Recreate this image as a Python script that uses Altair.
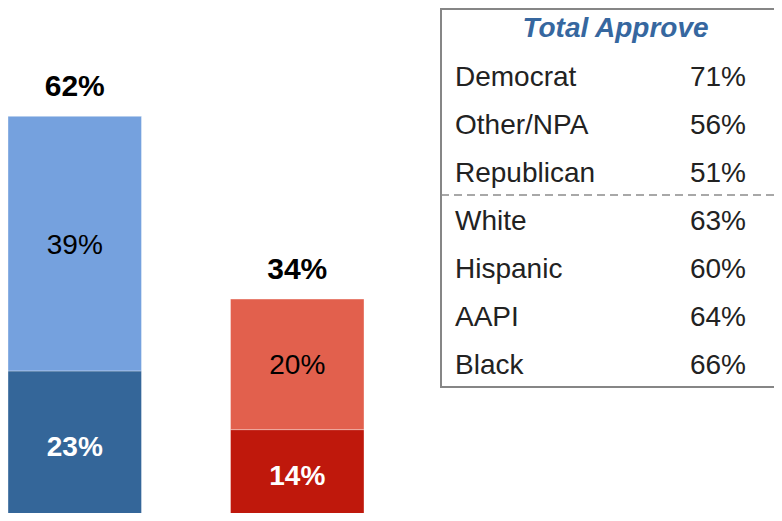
import altair as alt
import pandas as pd

# ---- data ----
categories = ["Approve", "Disapprove"]
strongly = [23, 14]
somewhat = [39, 20]
totals = [62, 34]

groups = ["Democrat", "Other/NPA", "Republican", "White", "Hispanic", "AAPI", "Black"]
approve_pct = [71, 56, 51, 63, 60, 64, 66]
table_title = "Total Approve"

colors = {
    ("Approve", "Strongly"): "#346699",
    ("Approve", "Somewhat"): "#75a1de",
    ("Disapprove", "Strongly"): "#bf180c",
    ("Disapprove", "Somewhat"): "#e2604d",
}

FONT = "Liberation Sans"

rows = []
for i, c in enumerate(categories):
    base = 0
    for seg, v in (("Strongly", strongly[i]), ("Somewhat", somewhat[i])):
        rows.append({"cat": c, "seg": seg, "key": f"{c}-{seg}", "y0": base,
                     "y1": base + v, "mid": base + v / 2, "label": f"{v}%"})
        base += v
bars_df = pd.DataFrame(rows)
tot_df = pd.DataFrame({"cat": categories, "total": totals,
                       "label": [f"{t}%" for t in totals]})
tab_df = pd.DataFrame({"group": groups, "pct": [f"{p}%" for p in approve_pct],
                       "lab": ["label"] * len(groups), "val": ["value"] * len(groups)})
title_df = pd.DataFrame({"t": [table_title]})

W, H = 766, 505

xs = alt.Scale(type="band", domain=categories, range=[0, 356], paddingInner=0.4, paddingOuter=0)
ys = alt.Scale(domain=[0, 78.6], range=[513, 0], zero=True, nice=False)
key_dom = [f"{c}-{s}" for (c, s) in colors]
key_rng = list(colors.values())

bars = alt.Chart(bars_df).mark_bar(stroke="white", strokeWidth=0.6, strokeOpacity=0.6, clip=True).encode(
    x=alt.X("cat:N", scale=xs, axis=None),
    y=alt.Y("y0:Q", scale=ys, axis=None),
    y2="y1:Q",
    color=alt.Color("key:N", scale=alt.Scale(domain=key_dom, range=key_rng), legend=None),
)

strong_lbl = alt.Chart(bars_df).transform_filter("datum.seg == 'Strongly'").mark_text(
    font=FONT, fontSize=28, fontWeight="bold", color="white", baseline="middle", dy=2
).encode(x=alt.X("cat:N", scale=xs, axis=None), y=alt.Y("mid:Q", scale=ys, axis=None), text="label:N")

some_lbl = alt.Chart(bars_df).transform_filter("datum.seg == 'Somewhat'").mark_text(
    font=FONT, fontSize=28, color="black", baseline="middle", dy=2
).encode(x=alt.X("cat:N", scale=xs, axis=None), y=alt.Y("mid:Q", scale=ys, axis=None), text="label:N")

tot_lbl = alt.Chart(tot_df).mark_text(
    font=FONT, fontSize=30, fontWeight="bold", color="black", baseline="alphabetic", dy=-20
).encode(x=alt.X("cat:N", scale=xs, axis=None), y=alt.Y("total:Q", scale=ys, axis=None), text="label:N")

# ---- table ----
rows_scale = alt.Scale(type="point", domain=groups, range=[68, 356], padding=0)
col_scale = alt.Scale(type="point", domain=["label", "value"], range=[447, 738], padding=0)

box = alt.Chart(title_df).mark_rect(fillOpacity=0, stroke="#868686", strokeWidth=2, clip=True).encode(
    x=alt.value(433), x2=alt.value(820), y=alt.value(1), y2=alt.value(379))

sep = alt.Chart(title_df).mark_rule(stroke="#8c8c8c", strokeWidth=1.5, strokeDash=[8, 5], clip=True).encode(
    x=alt.value(433), x2=alt.value(820), y=alt.value(187))

title = alt.Chart(title_df).mark_text(
    font=FONT, fontSize=28, fontWeight="bold", fontStyle="italic", color="#36679f",
    baseline="middle", align="center"
).encode(x=alt.value(607.5), y=alt.value(21), text="t:N")

lab_txt = alt.Chart(tab_df).mark_text(
    font=FONT, fontSize=28, color="#222222", align="left", baseline="middle", dy=2
).encode(x=alt.X("lab:N", scale=col_scale, axis=None),
         y=alt.Y("group:N", scale=rows_scale, axis=None), text="group:N")

val_txt = alt.Chart(tab_df).mark_text(
    font=FONT, fontSize=28, color="#222222", align="right", baseline="middle", dy=2
).encode(x=alt.X("val:N", scale=col_scale, axis=None),
         y=alt.Y("group:N", scale=rows_scale, axis=None), text="pct:N")

chart = alt.layer(
    bars, strong_lbl, some_lbl, tot_lbl, box, sep, title, lab_txt, val_txt
).resolve_scale(x="independent", y="independent").properties(
    width=W, height=H, autosize=alt.AutoSizeParams(type="none"), padding=0
).configure_view(stroke=None)

chart.save("out.html", embed_options={"renderer": "svg", "actions": False})
